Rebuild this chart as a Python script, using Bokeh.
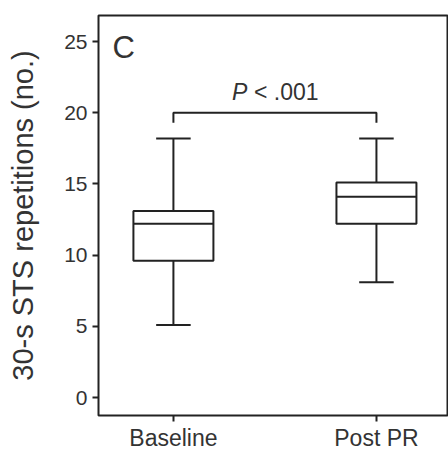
from bokeh.plotting import figure
from bokeh.models import Range1d, FixedTicker, Label
from bokeh.core.properties import value
from bokeh.embed import file_html
from bokeh.resources import INLINE

# ---- data ----
categories = ["Baseline", "Post PR"]
positions = [1, 2]
whisker_low = [5.1, 8.1]
q1 = [9.6, 12.2]
median = [12.2, 14.1]
q3 = [13.1, 15.1]
whisker_high = [18.2, 18.2]
bracket_y = 20.0
bracket_drop = 19.3
p_text = "< .001"
panel_label = "C"
y_ticks = [0, 5, 10, 15, 20, 25]

FONT = "Liberation Sans"
INK = "#222222"
TXT = "#333333"
BOX_W = 0.394
CAP_W = 0.17

p = figure(width=448, height=453, output_backend="svg", toolbar_location=None,
           x_range=Range1d(0.631, 2.35), y_range=Range1d(-1.26, 26.83),
           min_border_left=98, min_border_right=1, min_border_top=15, min_border_bottom=33)
p.background_fill_color = "white"
p.border_fill_color = "white"
p.outline_line_color = INK
p.outline_line_width = 2
p.xgrid.visible = False
p.ygrid.visible = False

# axes
p.yaxis.ticker = FixedTicker(ticks=y_ticks)
p.xaxis.ticker = FixedTicker(ticks=positions)
p.xaxis.major_label_overrides = {pos: c for pos, c in zip(positions, categories)}
for ax in (p.xaxis, p.yaxis):
    ax.axis_line_color = None
    ax.major_tick_line_color = INK
    ax.major_tick_line_width = 2
    ax.major_tick_out = 6
    ax.major_tick_in = 0
    ax.minor_tick_line_color = None
    ax.major_label_text_font = FONT
    ax.major_label_text_color = TXT
p.yaxis.major_label_text_font_size = "21px"
p.xaxis.major_label_text_font_size = "23px"
p.yaxis.major_label_standoff = 5
p.xaxis.major_label_standoff = 3
p.yaxis.axis_label = "30-s STS repetitions (no.)"
p.yaxis.axis_label_text_font = FONT
p.yaxis.axis_label_text_font_size = "29px"
p.yaxis.axis_label_text_font_style = "normal"
p.yaxis.axis_label_text_color = TXT
p.yaxis.axis_label_standoff = 22

# whiskers
p.segment(x0=positions, y0=whisker_low, x1=positions, y1=q1, line_color=INK, line_width=2)
p.segment(x0=positions, y0=q3, x1=positions, y1=whisker_high, line_color=INK, line_width=2)
# caps
p.segment(x0=[x - CAP_W / 2 for x in positions], y0=whisker_low,
          x1=[x + CAP_W / 2 for x in positions], y1=whisker_low, line_color=INK, line_width=2)
p.segment(x0=[x - CAP_W / 2 for x in positions], y0=whisker_high,
          x1=[x + CAP_W / 2 for x in positions], y1=whisker_high, line_color=INK, line_width=2)
# boxes
p.quad(left=[x - BOX_W / 2 for x in positions], right=[x + BOX_W / 2 for x in positions],
       bottom=q1, top=q3, fill_color="white", line_color=INK, line_width=2)
# medians
p.segment(x0=[x - BOX_W / 2 for x in positions], y0=median,
          x1=[x + BOX_W / 2 for x in positions], y1=median, line_color=INK, line_width=2)

# significance bracket
p.line(x=[positions[0], positions[0], positions[1], positions[1]],
       y=[bracket_drop, bracket_y, bracket_y, bracket_drop], line_color=INK, line_width=2)
mid = (positions[0] + positions[1]) / 2
p.text(x=[mid], y=[bracket_y], text=["P"], x_offset=-43, y_offset=-21,
       text_font=value(FONT), text_font_size="23px", text_font_style="italic",
       text_color=TXT, text_align="left", text_baseline="alphabetic")
p.text(x=[mid], y=[bracket_y], text=[p_text], x_offset=-21, y_offset=-21,
       text_font=value(FONT), text_font_size="23px",
       text_color=TXT, text_align="left", text_baseline="alphabetic")

# panel label
p.add_layout(Label(x=0.70, y=24.6, text=panel_label, text_font=FONT,
                   text_font_size="31px", text_color=TXT, text_baseline="alphabetic"))

open("out.html", "w").write(file_html(p, INLINE))
